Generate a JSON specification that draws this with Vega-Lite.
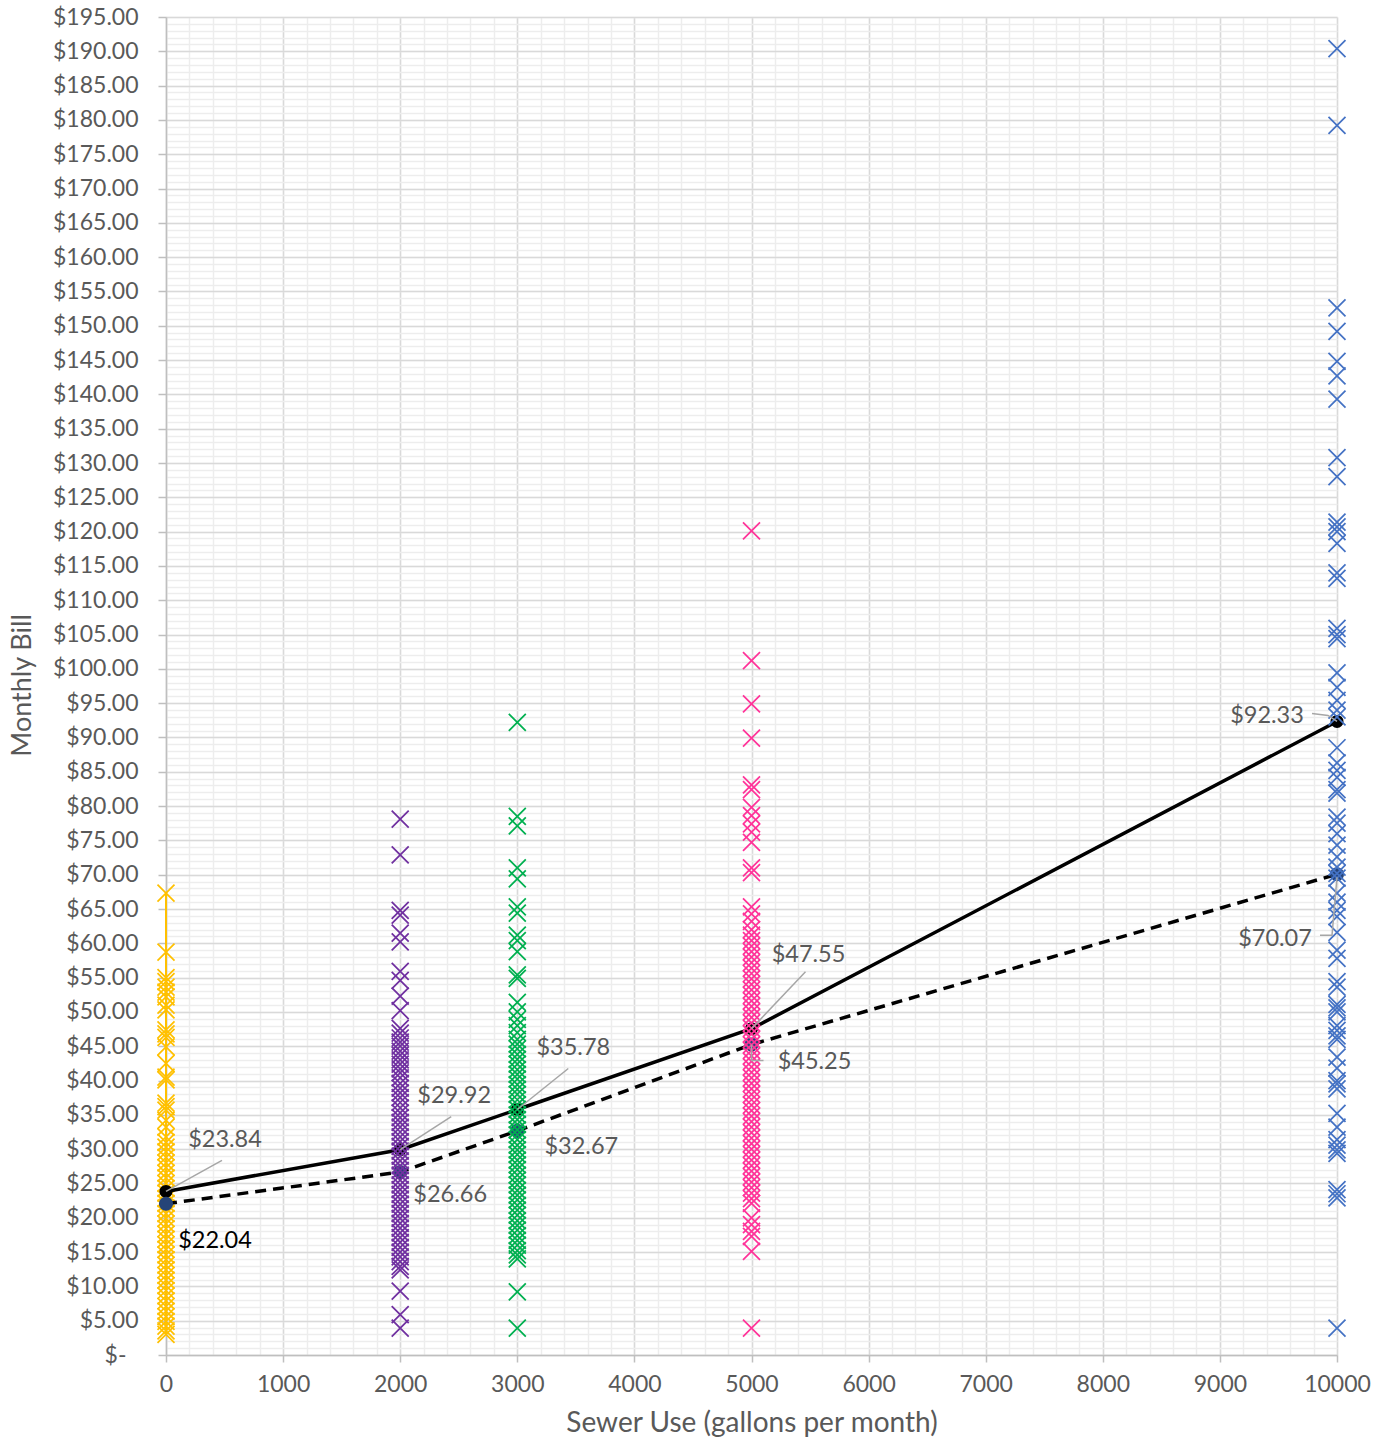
{
"$schema": "https://vega.github.io/schema/vega-lite/v6.json",
"width": 1171, "height": 1338,
"autosize": {"type": "none"},
"padding": {"left": 166, "top": 17, "right": 49, "bottom": 88},
"background": "white",
"config": {"view": {"stroke": null}, "font": "Lato", "text": {"font": "Lato"}},
"datasets": {
"stats": [
{"use":0,"bill":23.84,"stat":"Median","label":"$23.84"},
{"use":2000,"bill":29.92,"stat":"Median","label":"$29.92"},
{"use":3000,"bill":35.78,"stat":"Median","label":"$35.78"},
{"use":5000,"bill":47.55,"stat":"Median","label":"$47.55"},
{"use":10000,"bill":92.33,"stat":"Median","label":"$92.33"},
{"use":0,"bill":22.04,"stat":"Mean","label":"$22.04"},
{"use":2000,"bill":26.66,"stat":"Mean","label":"$26.66"},
{"use":3000,"bill":32.67,"stat":"Mean","label":"$32.67"},
{"use":5000,"bill":45.25,"stat":"Mean","label":"$45.25"},
{"use":10000,"bill":70.07,"stat":"Mean","label":"$70.07"}
],
"bills": [
{"use":0,"bill":67.3},{"use":0,"bill":58.7},{"use":0,"bill":55.0},{"use":0,"bill":54.4},{"use":0,"bill":53.6},{"use":0,"bill":52.9},{"use":0,"bill":52.2},{"use":0,"bill":51.0},{"use":0,"bill":50.3},{"use":0,"bill":47.4},{"use":0,"bill":46.8},{"use":0,"bill":46.3},{"use":0,"bill":44.9},{"use":0,"bill":42.5},{"use":0,"bill":40.5},{"use":0,"bill":40.1},{"use":0,"bill":36.7},{"use":0,"bill":36.2},{"use":0,"bill":35.7},{"use":0,"bill":34.2},{"use":0,"bill":33.2},{"use":0,"bill":31.8},{"use":0,"bill":31.0},{"use":0,"bill":30.3},{"use":0,"bill":29.6},{"use":0,"bill":28.8},{"use":0,"bill":28.0},{"use":0,"bill":27.3},{"use":0,"bill":26.5},{"use":0,"bill":25.8},{"use":0,"bill":25.0},{"use":0,"bill":24.3},{"use":0,"bill":23.6},{"use":0,"bill":22.8},{"use":0,"bill":22.1},{"use":0,"bill":21.4},{"use":0,"bill":20.6},{"use":0,"bill":19.9},{"use":0,"bill":19.1},{"use":0,"bill":18.4},{"use":0,"bill":17.6},{"use":0,"bill":16.9},{"use":0,"bill":16.1},{"use":0,"bill":15.4},{"use":0,"bill":14.6},{"use":0,"bill":13.9},{"use":0,"bill":13.1},{"use":0,"bill":12.4},{"use":0,"bill":11.6},{"use":0,"bill":10.9},{"use":0,"bill":10.1},{"use":0,"bill":9.4},{"use":0,"bill":8.6},{"use":0,"bill":7.9},{"use":0,"bill":7.1},{"use":0,"bill":6.4},{"use":0,"bill":5.6},{"use":0,"bill":4.9},{"use":0,"bill":4.2},{"use":0,"bill":3.5},{"use":0,"bill":3.0},
{"use":2000,"bill":78.1},{"use":2000,"bill":72.9},{"use":2000,"bill":64.8},{"use":2000,"bill":64.1},{"use":2000,"bill":61.5},{"use":2000,"bill":60.2},{"use":2000,"bill":55.9},{"use":2000,"bill":54.6},{"use":2000,"bill":52.3},{"use":2000,"bill":50.2},{"use":2000,"bill":47.6},{"use":2000,"bill":46.9},{"use":2000,"bill":46.2},{"use":2000,"bill":45.6},{"use":2000,"bill":45.0},{"use":2000,"bill":44.3},{"use":2000,"bill":43.7},{"use":2000,"bill":43.0},{"use":2000,"bill":42.4},{"use":2000,"bill":41.7},{"use":2000,"bill":41.1},{"use":2000,"bill":40.4},{"use":2000,"bill":39.6},{"use":2000,"bill":38.9},{"use":2000,"bill":38.2},{"use":2000,"bill":37.5},{"use":2000,"bill":36.8},{"use":2000,"bill":36.0},{"use":2000,"bill":35.3},{"use":2000,"bill":34.6},{"use":2000,"bill":33.9},{"use":2000,"bill":33.2},{"use":2000,"bill":32.5},{"use":2000,"bill":31.8},{"use":2000,"bill":31.1},{"use":2000,"bill":30.4},{"use":2000,"bill":29.7},{"use":2000,"bill":29.0},{"use":2000,"bill":28.3},{"use":2000,"bill":27.6},{"use":2000,"bill":26.9},{"use":2000,"bill":26.2},{"use":2000,"bill":25.5},{"use":2000,"bill":24.8},{"use":2000,"bill":24.1},{"use":2000,"bill":23.4},{"use":2000,"bill":22.7},{"use":2000,"bill":22.0},{"use":2000,"bill":21.3},{"use":2000,"bill":20.6},{"use":2000,"bill":19.9},{"use":2000,"bill":19.2},{"use":2000,"bill":18.5},{"use":2000,"bill":17.8},{"use":2000,"bill":17.1},{"use":2000,"bill":16.4},{"use":2000,"bill":15.7},{"use":2000,"bill":15.0},{"use":2000,"bill":14.3},{"use":2000,"bill":13.6},{"use":2000,"bill":12.9},{"use":2000,"bill":12.4},{"use":2000,"bill":9.3},{"use":2000,"bill":5.9},{"use":2000,"bill":3.9},
{"use":3000,"bill":92.2},{"use":3000,"bill":78.5},{"use":3000,"bill":77.1},{"use":3000,"bill":71.0},{"use":3000,"bill":69.4},{"use":3000,"bill":65.3},{"use":3000,"bill":64.4},{"use":3000,"bill":61.2},{"use":3000,"bill":60.4},{"use":3000,"bill":58.8},{"use":3000,"bill":55.4},{"use":3000,"bill":54.9},{"use":3000,"bill":51.4},{"use":3000,"bill":50.0},{"use":3000,"bill":48.9},{"use":3000,"bill":48.0},{"use":3000,"bill":47.0},{"use":3000,"bill":46.0},{"use":3000,"bill":45.3},{"use":3000,"bill":44.6},{"use":3000,"bill":43.8},{"use":3000,"bill":43.1},{"use":3000,"bill":42.4},{"use":3000,"bill":41.6},{"use":3000,"bill":40.9},{"use":3000,"bill":40.2},{"use":3000,"bill":39.4},{"use":3000,"bill":38.7},{"use":3000,"bill":38.0},{"use":3000,"bill":37.2},{"use":3000,"bill":36.5},{"use":3000,"bill":35.8},{"use":3000,"bill":35.0},{"use":3000,"bill":34.3},{"use":3000,"bill":33.6},{"use":3000,"bill":32.8},{"use":3000,"bill":32.1},{"use":3000,"bill":31.4},{"use":3000,"bill":30.6},{"use":3000,"bill":29.9},{"use":3000,"bill":29.2},{"use":3000,"bill":28.4},{"use":3000,"bill":27.7},{"use":3000,"bill":27.0},{"use":3000,"bill":26.2},{"use":3000,"bill":25.5},{"use":3000,"bill":24.8},{"use":3000,"bill":24.0},{"use":3000,"bill":23.3},{"use":3000,"bill":22.6},{"use":3000,"bill":21.8},{"use":3000,"bill":21.1},{"use":3000,"bill":20.4},{"use":3000,"bill":19.6},{"use":3000,"bill":18.9},{"use":3000,"bill":18.2},{"use":3000,"bill":17.4},{"use":3000,"bill":16.7},{"use":3000,"bill":16.0},{"use":3000,"bill":15.2},{"use":3000,"bill":14.6},{"use":3000,"bill":14.0},{"use":3000,"bill":9.2},{"use":3000,"bill":3.9},
{"use":5000,"bill":120.1},{"use":5000,"bill":101.2},{"use":5000,"bill":94.9},{"use":5000,"bill":89.9},{"use":5000,"bill":83.1},{"use":5000,"bill":82.4},{"use":5000,"bill":79.8},{"use":5000,"bill":78.6},{"use":5000,"bill":77.4},{"use":5000,"bill":76.2},{"use":5000,"bill":74.7},{"use":5000,"bill":71.0},{"use":5000,"bill":70.3},{"use":5000,"bill":65.3},{"use":5000,"bill":64.3},{"use":5000,"bill":63.2},{"use":5000,"bill":62.0},{"use":5000,"bill":61.2},{"use":5000,"bill":60.4},{"use":5000,"bill":59.6},{"use":5000,"bill":58.8},{"use":5000,"bill":58.0},{"use":5000,"bill":57.2},{"use":5000,"bill":56.4},{"use":5000,"bill":55.6},{"use":5000,"bill":54.8},{"use":5000,"bill":54.0},{"use":5000,"bill":53.2},{"use":5000,"bill":52.4},{"use":5000,"bill":51.6},{"use":5000,"bill":50.8},{"use":5000,"bill":50.0},{"use":5000,"bill":49.2},{"use":5000,"bill":48.4},{"use":5000,"bill":47.6},{"use":5000,"bill":46.8},{"use":5000,"bill":46.0},{"use":5000,"bill":45.2},{"use":5000,"bill":44.4},{"use":5000,"bill":43.6},{"use":5000,"bill":42.8},{"use":5000,"bill":42.0},{"use":5000,"bill":41.2},{"use":5000,"bill":40.4},{"use":5000,"bill":39.6},{"use":5000,"bill":38.8},{"use":5000,"bill":38.0},{"use":5000,"bill":37.2},{"use":5000,"bill":36.4},{"use":5000,"bill":35.6},{"use":5000,"bill":34.8},{"use":5000,"bill":34.0},{"use":5000,"bill":33.2},{"use":5000,"bill":32.4},{"use":5000,"bill":31.6},{"use":5000,"bill":30.8},{"use":5000,"bill":30.0},{"use":5000,"bill":29.2},{"use":5000,"bill":28.4},{"use":5000,"bill":27.6},{"use":5000,"bill":26.8},{"use":5000,"bill":26.0},{"use":5000,"bill":25.2},{"use":5000,"bill":24.4},{"use":5000,"bill":23.6},{"use":5000,"bill":22.8},{"use":5000,"bill":22.1},{"use":5000,"bill":20.0},{"use":5000,"bill":19.0},{"use":5000,"bill":18.0},{"use":5000,"bill":17.3},{"use":5000,"bill":15.1},{"use":5000,"bill":3.9},
{"use":10000,"bill":190.4},{"use":10000,"bill":179.2},{"use":10000,"bill":152.6},{"use":10000,"bill":149.2},{"use":10000,"bill":144.8},{"use":10000,"bill":142.7},{"use":10000,"bill":139.3},{"use":10000,"bill":130.8},{"use":10000,"bill":128.0},{"use":10000,"bill":121.4},{"use":10000,"bill":120.7},{"use":10000,"bill":120.0},{"use":10000,"bill":118.3},{"use":10000,"bill":114.0},{"use":10000,"bill":113.2},{"use":10000,"bill":105.9},{"use":10000,"bill":105.0},{"use":10000,"bill":104.4},{"use":10000,"bill":99.4},{"use":10000,"bill":97.3},{"use":10000,"bill":95.4},{"use":10000,"bill":94.0},{"use":10000,"bill":93.0},{"use":10000,"bill":88.5},{"use":10000,"bill":86.3},{"use":10000,"bill":85.2},{"use":10000,"bill":84.2},{"use":10000,"bill":82.4},{"use":10000,"bill":81.9},{"use":10000,"bill":78.4},{"use":10000,"bill":77.5},{"use":10000,"bill":76.0},{"use":10000,"bill":74.3},{"use":10000,"bill":72.6},{"use":10000,"bill":71.1},{"use":10000,"bill":70.2},{"use":10000,"bill":69.5},{"use":10000,"bill":67.3},{"use":10000,"bill":66.0},{"use":10000,"bill":64.8},{"use":10000,"bill":63.9},{"use":10000,"bill":61.6},{"use":10000,"bill":59.0},{"use":10000,"bill":57.8},{"use":10000,"bill":54.4},{"use":10000,"bill":53.6},{"use":10000,"bill":51.1},{"use":10000,"bill":50.6},{"use":10000,"bill":50.0},{"use":10000,"bill":48.0},{"use":10000,"bill":47.3},{"use":10000,"bill":46.5},{"use":10000,"bill":46.0},{"use":10000,"bill":43.4},{"use":10000,"bill":41.8},{"use":10000,"bill":40.0},{"use":10000,"bill":39.5},{"use":10000,"bill":38.8},{"use":10000,"bill":35.2},{"use":10000,"bill":33.2},{"use":10000,"bill":31.4},{"use":10000,"bill":30.6},{"use":10000,"bill":29.9},{"use":10000,"bill":29.4},{"use":10000,"bill":24.1},{"use":10000,"bill":23.5},{"use":10000,"bill":22.9},{"use":10000,"bill":3.9}
]
},
"layer": [
{
"data": {"name": "stats"},
"mark": {"type": "point", "opacity": 0},
"encoding": {
"x": {"field": "use", "type": "quantitative", "scale": {"domain": [0, 10000], "nice": false},
 "axis": {"orient": "bottom", "tickCount": 50, "grid": true, "gridColor": "#ededed", "gridWidth": 1.5, "labels": false, "ticks": false, "domain": false, "title": null}},
"y": {"field": "bill", "type": "quantitative", "scale": {"domain": [0, 195], "nice": false},
 "axis": {"orient": "left", "tickCount": 195, "grid": true, "gridColor": "#ededed", "gridWidth": 1.5, "labels": false, "ticks": false, "domain": false, "title": null}}
}
},
{
"layer": [
{
"data": {"name": "bills"},
"transform": [{"filter": "datum.use == 0"}],
"mark": {"type": "line", "color": "#FFC000", "strokeWidth": 2},
"encoding": {
"x": {"field": "use", "type": "quantitative",
 "axis": {"orient": "bottom", "values": [0,1000,2000,3000,4000,5000,6000,7000,8000,9000,10000], "tickCount": 11, "format": "d", "grid": true, "gridColor": "#d9d9d9", "gridWidth": 1.5,
  "domainColor": "#bfbfbf", "domainWidth": 1.5, "tickColor": "#bfbfbf", "tickWidth": 1.5, "tickSize": 7,
  "labelFont": "Lato", "labelFontSize": 23, "labelColor": "#595959", "labelPadding": 11, "labelFlush": false, "labelOverlap": false,
  "title": "Sewer Use (gallons per month)", "titleFont": "Lato", "titleFontSize": 28, "titleFontWeight": "normal", "titleColor": "#595959", "titleY": 68, "titleBaseline": "middle"}},
"y": {"field": "bill", "type": "quantitative",
 "axis": {"orient": "left", "values": [0,5,10,15,20,25,30,35,40,45,50,55,60,65,70,75,80,85,90,95,100,105,110,115,120,125,130,135,140,145,150,155,160,165,170,175,180,185,190,195], "tickCount": 40,
  "grid": true, "gridColor": "#d9d9d9", "gridWidth": 1.5,
  "domainColor": "#bfbfbf", "domainWidth": 1.5, "tickColor": "#bfbfbf", "tickWidth": 1.5, "tickSize": 8,
  "labelExpr": "datum.value == 0 ? '$-' : '$' + format(datum.value, '.2f')",
  "labelFont": "Lato", "labelFontSize": 23, "labelColor": "#595959",
  "labelPadding": {"condition": {"test": "datum.value == 0", "value": 32}, "value": 20},
  "labelFlush": false, "labelOverlap": false,
  "title": "Monthly Bill", "titleFont": "Lato", "titleFontSize": 27, "titleFontWeight": "normal", "titleColor": "#595959",
  "titleX": -144, "titleY": 668, "titleAngle": 270, "titleAlign": "center", "titleBaseline": "middle"}},
"order": {"field": "bill", "type": "quantitative"}
}
},
{
"data": {"name": "bills"},
"transform": [{"filter": "datum.use == 0"}],
"mark": {"type": "point", "shape": "M-1,-1L1,1M-1,1L1,-1", "filled": false, "size": 289, "strokeWidth": 1.75, "opacity": 1},
"encoding": {
"x": {"field": "use", "type": "quantitative"},
"y": {"field": "bill", "type": "quantitative"},
"color": {"field": "use", "type": "nominal", "scale": {"domain": [0, 2000, 3000, 5000, 10000], "range": ["#FFC000", "#7030A0", "#00B050", "#FF3399", "#4472C4"]}, "legend": null}
}
},
{
"data": {"name": "stats"},
"transform": [{"filter": "datum.stat == 'Median'"}],
"mark": {"type": "line", "color": "#000000", "strokeWidth": 3.5},
"encoding": {"x": {"field": "use", "type": "quantitative"}, "y": {"field": "bill", "type": "quantitative"}}
},
{
"data": {"name": "stats"},
"transform": [{"filter": "datum.stat == 'Mean'"}],
"mark": {"type": "line", "color": "#000000", "strokeWidth": 3.5, "strokeDash": [11, 7]},
"encoding": {"x": {"field": "use", "type": "quantitative"}, "y": {"field": "bill", "type": "quantitative"}}
},
{
"data": {"name": "stats"},
"transform": [{"filter": "datum.stat == 'Median'"}],
"mark": {"type": "circle", "color": "#000000", "size": 170, "opacity": 1},
"encoding": {"x": {"field": "use", "type": "quantitative"}, "y": {"field": "bill", "type": "quantitative"}}
},
{
"data": {"name": "stats"},
"transform": [{"filter": "datum.stat == 'Mean'"}],
"mark": {"type": "circle", "color": "#264478", "size": 200, "opacity": 1},
"encoding": {"x": {"field": "use", "type": "quantitative"}, "y": {"field": "bill", "type": "quantitative"}}
},
{
"data": {"name": "bills"},
"transform": [{"filter": "datum.use > 0"}],
"mark": {"type": "point", "shape": "M-1,-1L1,1M-1,1L1,-1", "filled": false, "size": 289, "strokeWidth": 1.75, "opacity": 1},
"encoding": {
"x": {"field": "use", "type": "quantitative"},
"y": {"field": "bill", "type": "quantitative"},
"color": {"field": "use", "type": "nominal", "scale": {"domain": [0, 2000, 3000, 5000, 10000], "range": ["#FFC000", "#7030A0", "#00B050", "#FF3399", "#4472C4"]}, "legend": null}
}
},
{"data": {"name": "stats"}, "transform": [{"filter": "datum.label == '$23.84'"}],
 "mark": {"type": "point", "shape": "M0,0L1.12,-0.62", "filled": false, "size": 10000, "stroke": "#a6a6a6", "strokeWidth": 1.5, "opacity": 1},
 "encoding": {"x": {"field": "use", "type": "quantitative"}, "y": {"field": "bill", "type": "quantitative"}}},
{"data": {"name": "stats"}, "transform": [{"filter": "datum.label == '$29.92'"}],
 "mark": {"type": "point", "shape": "M0,0L1.02,-0.66", "filled": false, "size": 10000, "stroke": "#a6a6a6", "strokeWidth": 1.5, "opacity": 1},
 "encoding": {"x": {"field": "use", "type": "quantitative"}, "y": {"field": "bill", "type": "quantitative"}}},
{"data": {"name": "stats"}, "transform": [{"filter": "datum.label == '$35.78'"}],
 "mark": {"type": "point", "shape": "M0,0L1.02,-0.82", "filled": false, "size": 10000, "stroke": "#a6a6a6", "strokeWidth": 1.5, "opacity": 1},
 "encoding": {"x": {"field": "use", "type": "quantitative"}, "y": {"field": "bill", "type": "quantitative"}}},
{"data": {"name": "stats"}, "transform": [{"filter": "datum.label == '$47.55'"}],
 "mark": {"type": "point", "shape": "M0,0L1.08,-1.14", "filled": false, "size": 10000, "stroke": "#a6a6a6", "strokeWidth": 1.5, "opacity": 1},
 "encoding": {"x": {"field": "use", "type": "quantitative"}, "y": {"field": "bill", "type": "quantitative"}}},
{"data": {"name": "stats"}, "transform": [{"filter": "datum.label == '$45.25'"}],
 "mark": {"type": "point", "shape": "M0,0L0,0.32L0.24,0.32", "filled": false, "size": 10000, "stroke": "#a6a6a6", "strokeWidth": 1.5, "opacity": 1},
 "encoding": {"x": {"field": "use", "type": "quantitative"}, "y": {"field": "bill", "type": "quantitative"}}},
{"data": {"name": "stats"}, "transform": [{"filter": "datum.label == '$92.33'"}],
 "mark": {"type": "point", "shape": "M-0.5,-0.16L-0.18,-0.12L0,0", "filled": false, "size": 10000, "stroke": "#a6a6a6", "strokeWidth": 1.5, "opacity": 1},
 "encoding": {"x": {"field": "use", "type": "quantitative"}, "y": {"field": "bill", "type": "quantitative"}}},
{"data": {"name": "stats"}, "transform": [{"filter": "datum.label == '$70.07'"}],
 "mark": {"type": "point", "shape": "M-0.34,1.22L-0.1,1.22L0,0.06", "filled": false, "size": 10000, "stroke": "#a6a6a6", "strokeWidth": 1.5, "opacity": 1},
 "encoding": {"x": {"field": "use", "type": "quantitative"}, "y": {"field": "bill", "type": "quantitative"}}},
{"data": {"name": "stats"}, "transform": [{"filter": "datum.label == '$23.84'"}],
 "mark": {"type": "text", "dx": 59, "dy": -51, "align": "center", "baseline": "middle", "fontSize": 23.5, "color": "#595959", "font": "Lato"},
 "encoding": {"x": {"field": "use", "type": "quantitative"}, "y": {"field": "bill", "type": "quantitative"}, "text": {"field": "label"}}},
{"data": {"name": "stats"}, "transform": [{"filter": "datum.label == '$29.92'"}],
 "mark": {"type": "text", "dx": 54, "dy": -54, "align": "center", "baseline": "middle", "fontSize": 23.5, "color": "#595959", "font": "Lato"},
 "encoding": {"x": {"field": "use", "type": "quantitative"}, "y": {"field": "bill", "type": "quantitative"}, "text": {"field": "label"}}},
{"data": {"name": "stats"}, "transform": [{"filter": "datum.label == '$35.78'"}],
 "mark": {"type": "text", "dx": 56, "dy": -61, "align": "center", "baseline": "middle", "fontSize": 23.5, "color": "#595959", "font": "Lato"},
 "encoding": {"x": {"field": "use", "type": "quantitative"}, "y": {"field": "bill", "type": "quantitative"}, "text": {"field": "label"}}},
{"data": {"name": "stats"}, "transform": [{"filter": "datum.label == '$47.55'"}],
 "mark": {"type": "text", "dx": 57, "dy": -74, "align": "center", "baseline": "middle", "fontSize": 23.5, "color": "#595959", "font": "Lato"},
 "encoding": {"x": {"field": "use", "type": "quantitative"}, "y": {"field": "bill", "type": "quantitative"}, "text": {"field": "label"}}},
{"data": {"name": "stats"}, "transform": [{"filter": "datum.label == '$92.33'"}],
 "mark": {"type": "text", "dx": -70, "dy": -5, "align": "center", "baseline": "middle", "fontSize": 23.5, "color": "#595959", "font": "Lato"},
 "encoding": {"x": {"field": "use", "type": "quantitative"}, "y": {"field": "bill", "type": "quantitative"}, "text": {"field": "label"}}},
{"data": {"name": "stats"}, "transform": [{"filter": "datum.label == '$22.04'"}],
 "mark": {"type": "text", "dx": 49, "dy": 37, "align": "center", "baseline": "middle", "fontSize": 23.5, "color": "#000000", "font": "Lato"},
 "encoding": {"x": {"field": "use", "type": "quantitative"}, "y": {"field": "bill", "type": "quantitative"}, "text": {"field": "label"}}},
{"data": {"name": "stats"}, "transform": [{"filter": "datum.label == '$26.66'"}],
 "mark": {"type": "text", "dx": 50, "dy": 23, "align": "center", "baseline": "middle", "fontSize": 23.5, "color": "#595959", "font": "Lato"},
 "encoding": {"x": {"field": "use", "type": "quantitative"}, "y": {"field": "bill", "type": "quantitative"}, "text": {"field": "label"}}},
{"data": {"name": "stats"}, "transform": [{"filter": "datum.label == '$32.67'"}],
 "mark": {"type": "text", "dx": 64, "dy": 16, "align": "center", "baseline": "middle", "fontSize": 23.5, "color": "#595959", "font": "Lato"},
 "encoding": {"x": {"field": "use", "type": "quantitative"}, "y": {"field": "bill", "type": "quantitative"}, "text": {"field": "label"}}},
{"data": {"name": "stats"}, "transform": [{"filter": "datum.label == '$45.25'"}],
 "mark": {"type": "text", "dx": 63, "dy": 17, "align": "center", "baseline": "middle", "fontSize": 23.5, "color": "#595959", "font": "Lato"},
 "encoding": {"x": {"field": "use", "type": "quantitative"}, "y": {"field": "bill", "type": "quantitative"}, "text": {"field": "label"}}},
{"data": {"name": "stats"}, "transform": [{"filter": "datum.label == '$70.07'"}],
 "mark": {"type": "text", "dx": -62, "dy": 65, "align": "center", "baseline": "middle", "fontSize": 23.5, "color": "#595959", "font": "Lato"},
 "encoding": {"x": {"field": "use", "type": "quantitative"}, "y": {"field": "bill", "type": "quantitative"}, "text": {"field": "label"}}}
]
}
],
"resolve": {"axis": {"x": "independent", "y": "independent"}}
}
